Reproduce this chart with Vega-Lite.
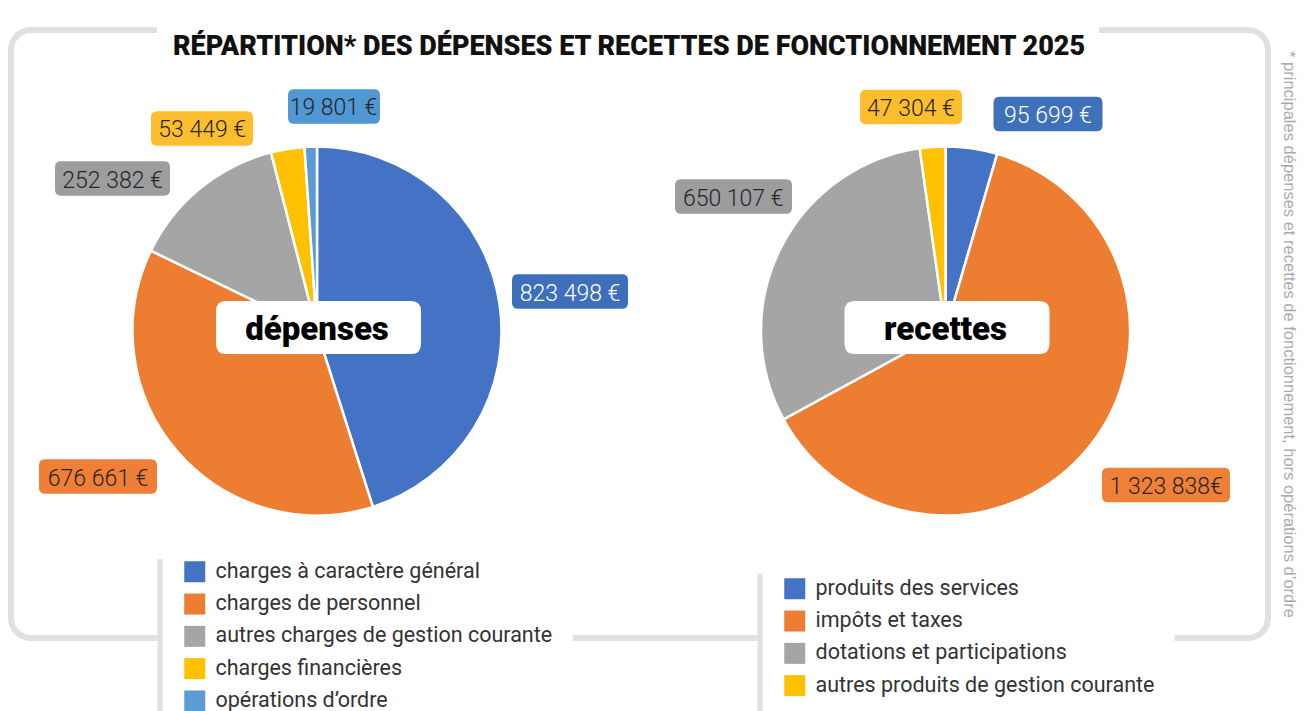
{
  "$schema": "https://vega.github.io/schema/vega-lite/v6.json",
  "width": 1257,
  "height": 608,
  "autosize": {"type": "none"},
  "padding": {"left": 11, "top": 30, "right": 44, "bottom": 73},
  "background": "white",
  "view": {"stroke": "#e0e0e0", "strokeWidth": 6, "cornerRadius": 20, "strokeDash": [126, 942, 852.84, 415, 187, 415, 757.84]},
  "data": {
    "values": [
      {"panel": "dépenses", "ord": 1, "cat": "charges à caractère général", "value": 823498, "label": "823 498 €"},
      {"panel": "dépenses", "ord": 2, "cat": "charges de personnel", "value": 676661, "label": "676 661 €"},
      {"panel": "dépenses", "ord": 3, "cat": "autres charges de gestion courante", "value": 252382, "label": "252 382 €"},
      {"panel": "dépenses", "ord": 4, "cat": "charges financières", "value": 53449, "label": "53 449 €"},
      {"panel": "dépenses", "ord": 5, "cat": "opérations d’ordre", "value": 19801, "label": "19 801 €"},
      {"panel": "recettes", "ord": 1, "cat": "produits des services", "value": 95699, "label": "95 699 €"},
      {"panel": "recettes", "ord": 2, "cat": "impôts et  taxes", "value": 1323838, "label": "1 323 838€"},
      {"panel": "recettes", "ord": 3, "cat": "dotations et participations", "value": 650107, "label": "650 107 €"},
      {"panel": "recettes", "ord": 4, "cat": "autres produits de gestion courante", "value": 47304, "label": "47 304 €"}
    ]
  },
  "encoding": {
    "x": {"field": "panel", "type": "nominal", "scale": {"type": "point", "domain": ["dépenses", "recettes"], "padding": 0.5, "align": 0.4869},
      "axis": {"orient": "top", "title": "RÉPARTITION* DES DÉPENSES ET RECETTES DE FONCTIONNEMENT 2025", "labels": false, "ticks": false, "domain": false, "grid": false,
        "titleFont": "Roboto", "titleFontSize": 27, "titleFontWeight": 900, "titleColor": "#111111", "titleBaseline": "alphabetic", "titleAlign": "center", "titleX": 617.5, "titleY": 24}},
    "y": {"datum": "pie", "type": "nominal", "scale": {"type": "point", "padding": 0.5, "align": 0.4951},
      "axis": {"orient": "right", "title": "* principales dépenses et recettes de fonctionnement, hors opérations d’ordre", "labels": false, "ticks": false, "domain": false, "grid": false,
        "titleFont": "Liberation Sans", "titleFontSize": 16.5, "titleFontWeight": "normal", "titleColor": "#aaaaaa", "titlePadding": 12}}
  },
  "resolve": {"scale": {"color": "independent"}, "legend": {"color": "independent"}},
  "layer": [
    {
      "transform": [{"filter": "datum.panel === 'dépenses'"}],
      "mark": {"type": "arc", "outerRadius": 184.5, "stroke": "white", "strokeWidth": 2.5},
      "encoding": {
        "theta": {"field": "value", "type": "quantitative", "stack": "normalize"},
        "order": {"field": "ord", "type": "quantitative"},
        "color": {"field": "cat", "type": "nominal",
          "scale": {"domain": ["charges à caractère général", "charges de personnel", "autres charges de gestion courante", "charges financières", "opérations d’ordre"],
            "range": ["#4472C4", "#ED7D31", "#A5A5A5", "#FFC000", "#5B9BD5"]},
          "legend": {"orient": "none", "legendX": 149, "legendY": 507, "title": null, "direction": "vertical",
            "symbolType": "square", "symbolSize": 441, "symbolStrokeWidth": 0, "symbolOpacity": 1,
            "labelFont": "Roboto", "labelFontSize": 21.5, "labelColor": "#333333", "labelLimit": 600, "labelOffset": 10,
            "rowPadding": 9.3, "padding": 24, "strokeColor": "#e0e0e0",
            "encoding": {"legend": {"strokeDash": {"value": [0, 1004, 206, 2000]}}}}
        }
      }
    },
    {
      "transform": [{"filter": "datum.panel === 'recettes'"}],
      "mark": {"type": "arc", "outerRadius": 184.5, "stroke": "white", "strokeWidth": 2.5},
      "encoding": {
        "theta": {"field": "value", "type": "quantitative", "stack": "normalize"},
        "order": {"field": "ord", "type": "quantitative"},
        "color": {"field": "cat", "type": "nominal",
          "scale": {"domain": ["produits des services", "impôts et  taxes", "dotations et participations", "autres produits de gestion courante"],
            "range": ["#4472C4", "#ED7D31", "#A5A5A5", "#FFC000"]},
          "legend": {"orient": "none", "legendX": 749, "legendY": 524, "title": null, "direction": "vertical",
            "symbolType": "square", "symbolSize": 441, "symbolStrokeWidth": 0, "symbolOpacity": 1,
            "labelFont": "Roboto", "labelFontSize": 21.5, "labelColor": "#333333", "labelLimit": 600, "labelOffset": 10,
            "rowPadding": 9.3, "padding": 24, "strokeColor": "#e0e0e0",
            "encoding": {"legend": {"strokeDash": {"value": [0, 978, 174, 2000]}}}}
        }
      }
    },
    {
      "transform": [{"aggregate": [{"op": "count", "as": "n"}], "groupby": ["panel"]}],
      "mark": {"type": "point", "shape": "M-0.9024,-0.2585L0.9024,-0.2585Q1,-0.2585 1,-0.1609L1,0.1609Q1,0.2585 0.9024,0.2585L-0.9024,0.2585Q-1,0.2585 -1,0.1609L-1,-0.1609Q-1,-0.2585 -0.9024,-0.2585Z", "size": 42025, "filled": true, "color": "#FFFFFF", "opacity": 1, "strokeWidth": 0, "xOffset": 1.5, "yOffset": -3.5}
    },
    {
      "transform": [{"aggregate": [{"op": "count", "as": "n"}], "groupby": ["panel"]}],
      "mark": {"type": "text", "font": "Roboto", "fontSize": 33, "fontWeight": 900, "color": "#000000", "align": "center", "baseline": "middle", "yOffset": -1},
      "encoding": {"text": {"field": "panel", "type": "nominal"}}
    },
    {
      "transform": [{"filter": "datum.panel === 'dépenses' && datum.ord === 1"}],
      "mark": {"type": "point", "shape": "M-0.8966,-0.2974L0.8966,-0.2974Q1,-0.2974 1,-0.194L1,0.194Q1,0.2974 0.8966,0.2974L-0.8966,0.2974Q-1,0.2974 -1,0.194L-1,-0.194Q-1,-0.2974 -0.8966,-0.2974Z", "size": 13456, "filled": true, "color": "#3E6FBA", "opacity": 1, "strokeWidth": 0, "xOffset": 253, "yOffset": -39.5}
    },
    {
      "transform": [{"filter": "datum.panel === 'dépenses' && datum.ord === 2"}],
      "mark": {"type": "point", "shape": "M-0.8983,-0.2924L0.8983,-0.2924Q1,-0.2924 1,-0.1907L1,0.1907Q1,0.2924 0.8983,0.2924L-0.8983,0.2924Q-1,0.2924 -1,0.1907L-1,-0.1907Q-1,-0.2924 -0.8983,-0.2924Z", "size": 13924, "filled": true, "color": "#EF7F37", "opacity": 1, "strokeWidth": 0, "xOffset": -219, "yOffset": 145.5}
    },
    {
      "transform": [{"filter": "datum.panel === 'dépenses' && datum.ord === 3"}],
      "mark": {"type": "point", "shape": "M-0.8957,-0.3L0.8957,-0.3Q1,-0.3 1,-0.1957L1,0.1957Q1,0.3 0.8957,0.3L-0.8957,0.3Q-1,0.3 -1,0.1957L-1,-0.1957Q-1,-0.3 -0.8957,-0.3Z", "size": 13225, "filled": true, "color": "#9C9D9E", "opacity": 1, "strokeWidth": 0, "xOffset": -204.5, "yOffset": -152.5}
    },
    {
      "transform": [{"filter": "datum.panel === 'dépenses' && datum.ord === 4"}],
      "mark": {"type": "point", "shape": "M-0.8824,-0.3382L0.8824,-0.3382Q1,-0.3382 1,-0.2206L1,0.2206Q1,0.3382 0.8824,0.3382L-0.8824,0.3382Q-1,0.3382 -1,0.2206L-1,-0.2206Q-1,-0.3382 -0.8824,-0.3382Z", "size": 10404, "filled": true, "color": "#FCBE2C", "opacity": 1, "strokeWidth": 0, "xOffset": -115, "yOffset": -202.5}
    },
    {
      "transform": [{"filter": "datum.panel === 'dépenses' && datum.ord === 5"}],
      "mark": {"type": "point", "shape": "M-0.8696,-0.375L0.8696,-0.375Q1,-0.375 1,-0.2446L1,0.2446Q1,0.375 0.8696,0.375L-0.8696,0.375Q-1,0.375 -1,0.2446L-1,-0.2446Q-1,-0.375 -0.8696,-0.375Z", "size": 8464, "filled": true, "color": "#4F98D4", "opacity": 1, "strokeWidth": 0, "xOffset": 17, "yOffset": -224.5}
    },
    {
      "transform": [{"filter": "datum.panel === 'recettes' && datum.ord === 1"}],
      "mark": {"type": "point", "shape": "M-0.8899,-0.3165L0.8899,-0.3165Q1,-0.3165 1,-0.2064L1,0.2064Q1,0.3165 0.8899,0.3165L-0.8899,0.3165Q-1,0.3165 -1,0.2064L-1,-0.2064Q-1,-0.3165 -0.8899,-0.3165Z", "size": 11881, "filled": true, "color": "#3E71BA", "opacity": 1, "strokeWidth": 0, "xOffset": 102.5, "yOffset": -217}
    },
    {
      "transform": [{"filter": "datum.panel === 'recettes' && datum.ord === 2"}],
      "mark": {"type": "point", "shape": "M-0.9062,-0.2695L0.9062,-0.2695Q1,-0.2695 1,-0.1757L1,0.1757Q1,0.2695 0.9062,0.2695L-0.9062,0.2695Q-1,0.2695 -1,0.1757L-1,-0.1757Q-1,-0.2695 -0.9062,-0.2695Z", "size": 16384, "filled": true, "color": "#EF8038", "opacity": 1, "strokeWidth": 0, "xOffset": 220.5, "yOffset": 154}
    },
    {
      "transform": [{"filter": "datum.panel === 'recettes' && datum.ord === 3"}],
      "mark": {"type": "point", "shape": "M-0.8974,-0.2949L0.8974,-0.2949Q1,-0.2949 1,-0.1923L1,0.1923Q1,0.2949 0.8974,0.2949L-0.8974,0.2949Q-1,0.2949 -1,0.1923L-1,-0.1923Q-1,-0.2949 -0.8974,-0.2949Z", "size": 13689, "filled": true, "color": "#9C9D9E", "opacity": 1, "strokeWidth": 0, "xOffset": -212, "yOffset": -134.5}
    },
    {
      "transform": [{"filter": "datum.panel === 'recettes' && datum.ord === 4"}],
      "mark": {"type": "point", "shape": "M-0.8824,-0.3382L0.8824,-0.3382Q1,-0.3382 1,-0.2206L1,0.2206Q1,0.3382 0.8824,0.3382L-0.8824,0.3382Q-1,0.3382 -1,0.2206L-1,-0.2206Q-1,-0.3382 -0.8824,-0.3382Z", "size": 10404, "filled": true, "color": "#FCBE2C", "opacity": 1, "strokeWidth": 0, "xOffset": -34.5, "yOffset": -224}
    },
    {
      "transform": [{"filter": "datum.panel === 'dépenses'"}],
      "encoding": {
        "theta": {"field": "value", "type": "quantitative", "stack": "normalize"},
        "order": {"field": "ord", "type": "quantitative"},
        "detail": {"field": "cat", "type": "nominal"}
      },
      "layer": [
        {"mark": {"type": "text", "radius": 250, "dx": 6, "dy": 1, "font": "Roboto", "fontWeight": 300, "fontSize": 23, "align": "center", "baseline": "middle", "fill": "#FFFFFF"},
         "encoding": {"text": {"condition": {"test": "datum.ord === 1", "field": "label", "type": "nominal"}, "value": ""}}},
        {"mark": {"type": "text", "radius": 250, "dx": -30, "dy": -16, "font": "Roboto", "fontWeight": 300, "fontSize": 23, "align": "center", "baseline": "middle", "fill": "#262626"},
         "encoding": {"text": {"condition": {"test": "datum.ord === 2", "field": "label", "type": "nominal"}, "value": ""}}},
        {"mark": {"type": "text", "radius": 250, "dx": -46, "dy": 43, "font": "Roboto", "fontWeight": 300, "fontSize": 23, "align": "center", "baseline": "middle", "fill": "#262626"},
         "encoding": {"text": {"condition": {"test": "datum.ord === 3", "field": "label", "type": "nominal"}, "value": ""}}},
        {"mark": {"type": "text", "radius": 250, "dx": -75, "dy": 46, "font": "Roboto", "fontWeight": 300, "fontSize": 23, "align": "center", "baseline": "middle", "fill": "#262626"},
         "encoding": {"text": {"condition": {"test": "datum.ord === 4", "field": "label", "type": "nominal"}, "value": ""}}},
        {"mark": {"type": "text", "radius": 250, "dx": 25, "dy": 27, "font": "Roboto", "fontWeight": 300, "fontSize": 23, "align": "center", "baseline": "middle", "fill": "#262626"},
         "encoding": {"text": {"condition": {"test": "datum.ord === 5", "field": "label", "type": "nominal"}, "value": ""}}}
      ]
    },
    {
      "transform": [{"filter": "datum.panel === 'recettes'"}],
      "encoding": {
        "theta": {"field": "value", "type": "quantitative", "stack": "normalize"},
        "order": {"field": "ord", "type": "quantitative"},
        "detail": {"field": "cat", "type": "nominal"}
      },
      "layer": [
        {"mark": {"type": "text", "radius": 250, "dx": 67, "dy": 32, "font": "Roboto", "fontWeight": 300, "fontSize": 23, "align": "center", "baseline": "middle", "fill": "#FFFFFF"},
         "encoding": {"text": {"condition": {"test": "datum.ord === 1", "field": "label", "type": "nominal"}, "value": ""}}},
        {"mark": {"type": "text", "radius": 250, "dx": 26, "dy": -1, "font": "Roboto", "fontWeight": 300, "fontSize": 23, "align": "center", "baseline": "middle", "fill": "#262626"},
         "encoding": {"text": {"condition": {"test": "datum.ord === 2", "field": "label", "type": "nominal"}, "value": ""}}},
        {"mark": {"type": "text", "radius": 250, "dx": 11, "dy": -20, "font": "Roboto", "fontWeight": 300, "fontSize": 23, "align": "center", "baseline": "middle", "fill": "#262626"},
         "encoding": {"text": {"condition": {"test": "datum.ord === 3", "field": "label", "type": "nominal"}, "value": ""}}},
        {"mark": {"type": "text", "radius": 250, "dx": -17, "dy": 27, "font": "Roboto", "fontWeight": 300, "fontSize": 23, "align": "center", "baseline": "middle", "fill": "#262626"},
         "encoding": {"text": {"condition": {"test": "datum.ord === 4", "field": "label", "type": "nominal"}, "value": ""}}}
      ]
    }
  ],
  "config": {"legend": {"strokeWidth": 5, "strokeDash": [0, 960, 252, 2000]}}
}
